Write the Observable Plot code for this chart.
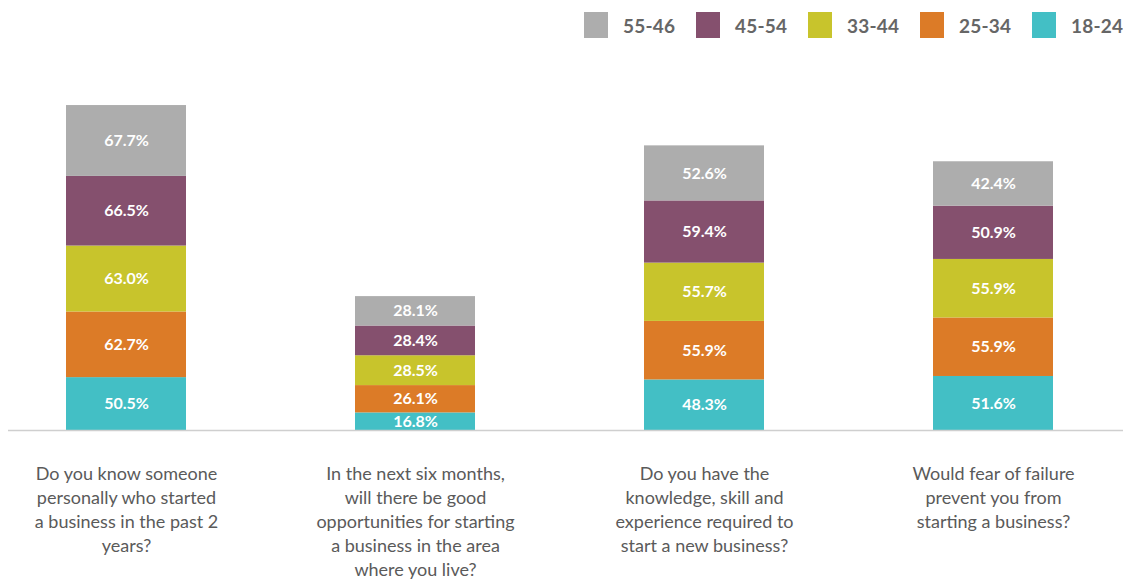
<!DOCTYPE html>
<html>
<head>
<meta charset="utf-8">
<script src="https://cdn.jsdelivr.net/npm/d3@7"></script>
<script src="https://cdn.jsdelivr.net/npm/@observablehq/plot@0.6"></script>
<style>
  html, body { margin: 0; padding: 0; background: #fff; }
  #wrap { position: relative; width: 1123px; height: 580px; overflow: hidden; font-family: Lato, "Open Sans", sans-serif; }
  #legend { position: absolute; left: 584px; top: 12px; display: flex; white-space: nowrap; }
  .item { display: flex; align-items: center; margin-right: 23px; flex: none; }
  .sw { width: 24px; height: 26px; margin-right: 15px; flex: none; }
  .lab { display: inline-block; width: 50px; font-size: 19px; font-weight: 700; color: #666; letter-spacing: 0.2px; }
  #chart { position: absolute; left: 0; top: 0; }
</style>
</head>
<body>
<div id="wrap">
  <div id="chart"></div>
  <div id="legend"></div>
</div>
<script>
const questions = [
  "Do you know someone\npersonally who started\na business in the past 2\nyears?",
  "In the next six months,\nwill there be good\nopportunities for starting\na business in the area\nwhere you live?",
  "Do you have the\nknowledge, skill and\nexperience required to\nstart a new business?",
  "Would fear of failure\nprevent you from\nstarting a business?"
];
const groups = ["18-24", "25-34", "33-44", "45-54", "55-46"];
const colors = ["#43bfc5", "#dc7b27", "#c8c42c", "#85506e", "#adadad"];
const v18_24 = [50.5, 16.8, 48.3, 51.6];
const v25_34 = [62.7, 26.1, 55.9, 55.9];
const v33_44 = [63.0, 28.5, 55.7, 55.9];
const v45_54 = [66.5, 28.4, 59.4, 50.9];
const v55_46 = [67.7, 28.1, 52.6, 42.4];
const series = [v18_24, v25_34, v33_44, v45_54, v55_46];

const data = [];
questions.forEach((q, i) => {
  groups.forEach((g, j) => data.push({q, group: g, value: series[j][i]}));
});

const chart = Plot.plot({
  width: 1123,
  height: 580,
  marginTop: 95,
  marginBottom: 150,
  marginLeft: 8,
  marginRight: 0,
  style: {fontFamily: "Lato, 'Open Sans', sans-serif", background: "transparent"},
  x: {domain: questions, paddingInner: 0.586, paddingOuter: 0.2155, align: 0.448, label: null},
  y: {domain: [0, 320], axis: null},
  color: {domain: groups, range: colors},
  marks: [
    Plot.barY(data, {x: "q", y: "value", fill: "group", z: "group"}),
    Plot.text(data, Plot.stackY({x: "q", y: "value", z: "group",
      text: d => d.value.toFixed(1) + "%",
      fill: "white", fontSize: 16, fontWeight: "bold"})),
    Plot.ruleY([0], {stroke: "#cfcfcf", strokeWidth: 1.5}),
    Plot.axisX({tickSize: 0, tickPadding: 32, fontSize: 18, lineHeight: 1.333, fill: "#5a5a5a", label: null})
  ]
});
document.getElementById("chart").appendChild(chart);

const legend = document.getElementById("legend");
for (let j = groups.length - 1; j >= 0; j--) {
  const item = document.createElement("div");
  item.className = "item";
  const sw = document.createElement("div");
  sw.className = "sw";
  sw.style.background = colors[j];
  const lab = document.createElement("span");
  lab.className = "lab";
  lab.textContent = groups[j];
  item.appendChild(sw);
  item.appendChild(lab);
  legend.appendChild(item);
}
</script>
</body>
</html>
